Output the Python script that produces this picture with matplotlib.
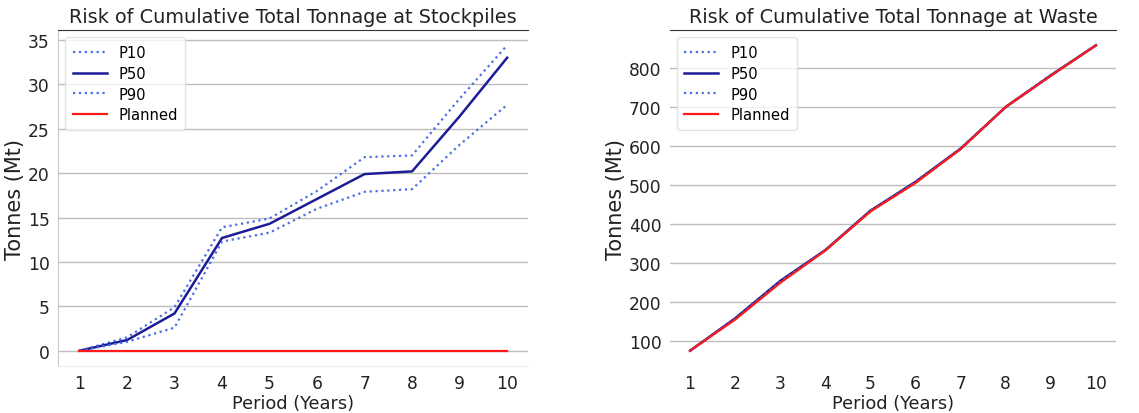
import numpy as np
import matplotlib
matplotlib.use('Agg')
import matplotlib.pyplot as plt

# Periods (years)
periods = np.arange(1, 11)

# Stockpiles cumulative tonnage (Mt)
stock_p10 = [0.0, 1.5, 4.9, 13.9, 14.9, 18.0, 21.8, 22.0, 28.4, 34.4]
stock_p50 = [0.0, 1.2, 4.2, 12.7, 14.3, 17.1, 19.9, 20.2, 26.4, 33.0]
stock_p90 = [0.0, 1.0, 2.6, 12.3, 13.3, 16.0, 17.9, 18.2, 23.2, 27.7]
stock_plan = [0.0] * 10

# Waste cumulative tonnage (Mt)
waste_p10 = [75, 157, 253, 333, 434, 508, 594, 700, 782, 858]
waste_p50 = [75, 158, 254, 333, 434, 508, 593, 700, 781, 858]
waste_p90 = [75, 156, 252, 332, 433, 507, 592, 699, 780, 858]
waste_plan = [75, 155, 249, 332, 432, 505, 592, 700, 780, 858]

C_DOT = '#4a6ee6'
C_P50 = '#1c1c96'
C_PLAN = '#ff1a1a'

fig = plt.figure(figsize=(11.39, 4.14), dpi=100)
ax1 = fig.add_axes([0.051, 0.1135, 0.413, 0.8115])
ax2 = fig.add_axes([0.588, 0.1135, 0.392, 0.8115])


def draw(ax, p10, p50, p90, plan, title):
    ax.plot(periods, p10, linestyle=':', color=C_DOT, linewidth=1.6, label='P10')
    ax.plot(periods, p50, linestyle='-', color=C_P50, linewidth=1.8, label='P50')
    ax.plot(periods, p90, linestyle=':', color=C_DOT, linewidth=1.6, label='P90')
    ax.plot(periods, plan, linestyle='-', color=C_PLAN, linewidth=1.6, label='Planned')
    ax.set_title(title, fontsize=13.9, color='#222222')
    ax.set_xlabel('Period (Years)', fontsize=12.8, labelpad=1, color='#222222')
    ax.set_ylabel('Tonnes (Mt)', fontsize=15, labelpad=2, color='#222222')
    ax.set_xticks(periods)
    ax.tick_params(axis='both', labelsize=12.3, colors='#222222', length=0, pad=6)
    ax.grid(axis='y', color='#bdbdbd', linewidth=1.0)
    ax.set_axisbelow(True)
    ax.spines['top'].set_color('#333333')
    ax.spines['right'].set_visible(False)
    leg = ax.legend(loc='upper left', fontsize=10.6, frameon=True,
                    handlelength=2.3, labelspacing=0.4, borderpad=0.5)
    leg.get_frame().set_edgecolor('#dddddd')


draw(ax1, stock_p10, stock_p50, stock_p90, stock_plan,
     'Risk of Cumulative Total Tonnage at Stockpiles')
ax1.spines['left'].set_color('#c8c8c8')
ax1.spines['bottom'].set_color('#eeeeee')

draw(ax2, waste_p10, waste_p50, waste_p90, waste_plan,
     'Risk of Cumulative Total Tonnage at Waste')
ax2.set_yticks([100, 200, 300, 400, 500, 600, 700, 800])
ax2.spines['left'].set_visible(False)
ax2.spines['bottom'].set_visible(False)

plt.savefig('out.png', dpi=100)
